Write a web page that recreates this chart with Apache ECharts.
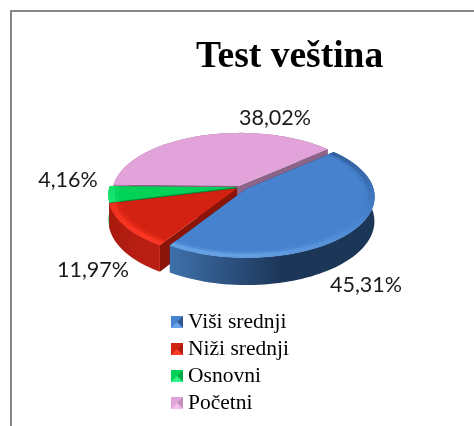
<!DOCTYPE html>
<html><head><meta charset="utf-8">
<style>html,body{margin:0;padding:0;background:#fff}#c{width:474px;height:426px}</style>
<script src="https://cdn.jsdelivr.net/npm/echarts@6/dist/echarts.min.js"></script>
</head><body><div id="c"></div>
<script>
var categories = ['Viši srednji', 'Niži srednji', 'Osnovni', 'Početni'];
var values = [45.31, 11.97, 4.16, 38.02];
var valueLabels = ['45,31%', '11,97%', '4,16%', '38,02%'];
var chartTitle = 'Test veština';

var topColors = ['#4682ce', '#d42212', '#00d257', '#e2a2da'];
var rimColors = ['#6aa4e8', '#ff3a26', '#30f488', '#f0c0ea'];
var rimShade = ['#2f5a94', '#b01c10', '#00a848', '#c090ba'];
var rimStrength = [1, 1, 1, 0];
var radialWall = ['#1c3658', '#8a1408', '#008a3a', '#8c6488'];
var wallLeft = ['#3f70ab', '#a81a0e', '#00b04c', '#b080aa'];
var wallRight = ['#1c3658', '#b81e12', '#00a040', '#8c6488'];
var explode = [0.05, 0.04, 0.035, 0.025];
var labelCentres = [[366, 285], [93, 270], [68, 180], [275, 118]];

var CX = 241, CY = 187, RX = 127, RY = 59.6, PERSP = 0.124, DEPTH = 24, START = 48.5, LIGHT = 205;
var total = values.reduce(function (a, b) { return a + b; }, 0);

function angles(i) {
  var before = 0;
  for (var k = 0; k < i; k++) before += values[k];
  return [START + before / total * 360, START + (before + values[i]) / total * 360];
}
function project(u, v, dy) {
  var s = 1 / (1 - PERSP * v);
  return [CX + RX * u * s, CY + RY * v * s + (dy || 0) * s];
}
function disc(deg, r) {
  var a = deg * Math.PI / 180;
  return [r * Math.sin(a), -r * Math.cos(a)];
}
function icon(i) {
  var svg = "<svg xmlns='http://www.w3.org/2000/svg' width='12' height='12'>" +
    "<rect width='12' height='12' fill='" + topColors[i] + "'/>" +
    "<path d='M12 0L12 12L6 6Z' fill='" + rimShade[i] + "'/>" +
    "<path d='M0 12L12 12L6 6Z' fill='" + rimColors[i] + "'/></svg>";
  return 'image://data:image/svg+xml;charset=utf-8,' + encodeURIComponent(svg);
}
function rimColour(i, deg, gain) {
  var f = Math.cos((deg - LIGHT) * Math.PI / 180) * gain;
  return f >= 0 ? echarts.color.lerp(f, [topColors[i], rimColors[i]])
                : echarts.color.lerp(-f, [topColors[i], rimShade[i]]);
}

function slice(i) {
  return function () {
    var a = angles(i), mid = (a[0] + a[1]) / 2, off = disc(mid, explode[i]);
    var pt = function (deg, r, dy) {
      var d = disc(deg, r);
      return project(d[0] + off[0], d[1] + off[1], dy);
    };
    var arc = function (r, dy, from, to) {
      var out = [], n = Math.max(2, Math.ceil((to - from) / 2));
      for (var k = 0; k <= n; k++) out.push(pt(from + (to - from) * k / n, r, dy));
      return out;
    };
    var kids = [];
    [a[0], a[1]].forEach(function (e) {
      kids.push({ type: 'polygon', shape: { points: [pt(e, 0, 0), pt(e, 1, 0), pt(e, 1, DEPTH), pt(e, 0, DEPTH)] },
        style: { fill: radialWall[i] } });
    });
    var top = arc(1, 0, a[0], a[1]), bottom = arc(1, DEPTH, a[0], a[1]).reverse();
    var xs = top.map(function (p) { return p[0]; });
    var x0 = Math.min.apply(null, xs), x1 = Math.max.apply(null, xs);
    kids.push({ type: 'polygon', shape: { points: top.concat(bottom) },
      style: { fill: new echarts.graphic.LinearGradient(x0, 0, x1, 0, [
        { offset: 0, color: wallLeft[i] }, { offset: 0.55, color: wallRight[i] }, { offset: 1, color: wallRight[i] }
      ], true) } });
    kids.push({ type: 'polygon', shape: { points: [pt(a[0], 0, 0)].concat(top) }, style: { fill: topColors[i] } });
    if (rimStrength[i]) {
      var steps = Math.ceil((a[1] - a[0]) / 3);
      [[0.925, 0.955, 0.3], [0.955, 1, 0.9]].forEach(function (band) {
        for (var k = 0; k < steps; k++) {
          var d0 = a[0] + (a[1] - a[0]) * k / steps, d1 = a[0] + (a[1] - a[0]) * (k + 1) / steps;
          var col = rimColour(i, (d0 + d1) / 2, band[2]);
          kids.push({ type: 'polygon', shape: { points: [pt(d0, band[0]), pt(d1, band[0]), pt(d1, band[1]), pt(d0, band[1])] },
            style: { fill: col, stroke: col, lineWidth: 0.5 } });
        }
      });
    }
    kids.push({ type: 'text', style: { text: valueLabels[i], x: labelCentres[i][0], y: labelCentres[i][1],
      align: 'center', verticalAlign: 'middle', font: '21.5px Lato', fill: '#1a1a1a' } });
    return { type: 'group', children: kids };
  };
}

var order = [3, 2, 1, 0];
var chart = echarts.init(document.getElementById('c'), null, { renderer: 'canvas' });
chart.setOption({
  animation: false,
  title: { text: chartTitle, left: 191, top: 33,
    textStyle: { fontFamily: 'Liberation Serif', fontWeight: 'bold', fontSize: 37.5, color: '#000' } },
  legend: {
    orient: 'vertical', left: 166, top: 306, itemWidth: 12, itemHeight: 12, itemGap: 5, itemSymbolKeepAspect: true,
    data: categories.map(function (n, i) { return { name: n, icon: icon(i) }; }),
    textStyle: { fontFamily: 'Liberation Serif', fontSize: 21.5, lineHeight: 19, color: '#000', padding: [0, 0, 0, 0] }
  },
  graphic: [
    { type: 'polyline', silent: true, shape: { points: [[11, 426], [11, 11], [474, 11]] },
      style: { stroke: '#868686', lineWidth: 2, fill: null } }
  ],
  series: order.map(function (i) {
    return { type: 'custom', name: categories[i], coordinateSystem: 'none',
      itemStyle: { color: topColors[i] }, data: [values[i]], renderItem: slice(i) };
  })
});
</script></body></html>
